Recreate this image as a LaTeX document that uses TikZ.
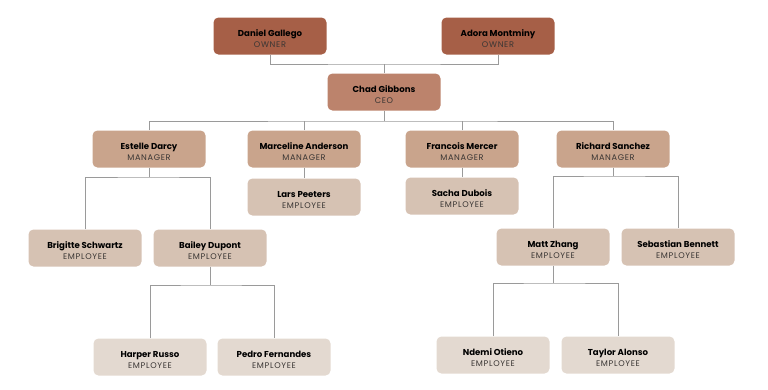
\documentclass[tikz,border=0pt]{standalone}
\usepackage{fontspec}
\setmainfont{Poppins}
\usetikzlibrary{positioning}

\definecolor{ownerclr}{HTML}{A65F47}
\definecolor{ceoclr}{HTML}{BC836C}
\definecolor{mgrclr}{HTML}{C9A48C}
\definecolor{empclr}{HTML}{D6C2B3}
\definecolor{leafclr}{HTML}{E3D9D0}
\definecolor{roleclr}{HTML}{3A3634}
\definecolor{lineclr}{HTML}{9A9A9A}

\newcommand{\person}[2]{{\rule{0pt}{13pt}\fontsize{8.6}{10}\selectfont\bfseries #1}\\[-1pt]{\fontsize{8.2}{9.5}\selectfont\addfontfeature{LetterSpace=8}\color{roleclr}#2}}

\tikzset{
  card/.style={rounded corners=5pt, minimum width=113pt, minimum height=37pt,
    align=center, inner sep=2pt},
  owner/.style={card, fill=ownerclr},
  ceo/.style={card, fill=ceoclr},
  mgr/.style={card, fill=mgrclr},
  emp/.style={card, fill=empclr},
  leaf/.style={card, fill=leafclr},
  link/.style={draw=lineclr, line width=0.8pt}
}

\begin{document}
\begin{tikzpicture}[x=1pt, y=-1pt]
    \useasboundingbox (0,0) rectangle (768,389);
    % top
    \node[owner] (daniel) at (270,36) {\person{Daniel Gallego}{OWNER}};
    \node[owner] (adora) at (498,36) {\person{Adora Montminy}{OWNER}};
    \node[ceo] (chad) at (384,92) {\person{Chad Gibbons}{CEO}};
    % managers
    \node[mgr] (estelle) at (149,149) {\person{Estelle Darcy}{MANAGER}};
    \node[mgr] (marceline) at (304,149) {\person{Marceline Anderson}{MANAGER}};
    \node[mgr] (francois) at (462,149) {\person{Francois Mercer}{MANAGER}};
    \node[mgr] (richard) at (613,149) {\person{Richard Sanchez}{MANAGER}};
    % employees
    \node[emp] (lars) at (304,197) {\person{Lars Peeters}{EMPLOYEE}};
    \node[emp] (sacha) at (462,196) {\person{Sacha Dubois}{EMPLOYEE}};
    \node[emp] (brigitte) at (85,248) {\person{Brigitte Schwartz}{EMPLOYEE}};
    \node[emp] (bailey) at (210,248) {\person{Bailey Dupont}{EMPLOYEE}};
    \node[emp] (matt) at (553,247) {\person{Matt Zhang}{EMPLOYEE}};
    \node[emp] (sebastian) at (678,247) {\person{Sebastian Bennett}{EMPLOYEE}};
    \node[leaf] (harper) at (150,357) {\person{Harper Russo}{EMPLOYEE}};
    \node[leaf] (pedro) at (274,357) {\person{Pedro Fernandes}{EMPLOYEE}};
    \node[leaf] (ndemi) at (493,355) {\person{Ndemi Otieno}{EMPLOYEE}};
    \node[leaf] (taylor) at (618,355) {\person{Taylor Alonso}{EMPLOYEE}};

    % connectors
    \coordinate (ownbus) at (384,64);
    \draw[link] (daniel.south) |- (ownbus) -| (adora.south);
    \draw[link] (ownbus) -- (chad.north);
    \coordinate (ceobus) at (384,121);
    \draw[link] (chad.south) -- (ceobus);
    \draw[link] (estelle.north) |- (ceobus) -| (richard.north);
    \draw[link] (marceline.north) -- (marceline.north |- ceobus);
    \draw[link] (francois.north) -- (francois.north |- ceobus);
    \draw[link] (marceline) -- (lars);
    \draw[link] (francois) -- (sacha);
    \coordinate (estbus) at (149,177);
    \draw[link] (estelle.south) -- (estbus);
    \draw[link] (brigitte.north) |- (estbus) -| (bailey.north);
    \coordinate (baibus) at (210,285);
    \draw[link] (bailey.south) -- (baibus);
    \draw[link] (harper.north) |- (baibus) -| (pedro.north);
    \coordinate (ricbus) at (613,176);
    \draw[link] (richard.south) -- (ricbus);
    \draw[link] (matt.north) |- (ricbus) -| (sebastian.north);
    \coordinate (matbus) at (553,283);
    \draw[link] (matt.south) -- (matbus);
    \draw[link] (ndemi.north) |- (matbus) -| (taylor.north);
\end{tikzpicture}
\end{document}
